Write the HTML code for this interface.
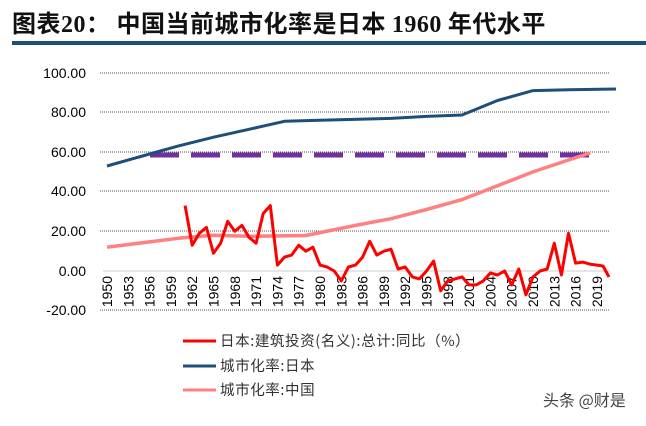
<!DOCTYPE html>
<html><head><meta charset="utf-8"><style>
body{margin:0;background:#fff;width:646px;height:421px;overflow:hidden;font-family:"Liberation Sans","Noto Sans CJK SC",sans-serif}
</style></head><body>
<svg width="646" height="421" viewBox="0 0 646 421" xmlns="http://www.w3.org/2000/svg" font-family="Liberation Sans, Noto Sans CJK SC, sans-serif">
<text x="12" y="32" font-size="24" font-weight="bold" font-family="Noto Sans CJK SC, sans-serif" fill="#111" letter-spacing="0.5">图表<tspan font-family="Liberation Serif, serif">20</tspan>：  中国当前城市化率是日本 <tspan font-family="Liberation Serif, serif">1960</tspan> 年代水平</text>
<rect x="12" y="41" width="634" height="4" fill="#1f4e79"/>
<g stroke="#555" stroke-width="1" stroke-dasharray="1,1">
<line x1="100" y1="73" x2="610" y2="73"/><line x1="100" y1="112" x2="610" y2="112"/><line x1="100" y1="152" x2="610" y2="152"/><line x1="100" y1="191" x2="610" y2="191"/><line x1="100" y1="231" x2="610" y2="231"/><line x1="100" y1="310" x2="610" y2="310"/>
</g>
<line x1="103" y1="271" x2="610" y2="271" stroke="#ccc"/>
<g font-size="14" text-anchor="end" fill="#000">
<text x="86" y="78">100.00</text><text x="86" y="117">80.00</text><text x="86" y="157">60.00</text><text x="86" y="196">40.00</text><text x="86" y="236">20.00</text><text x="86" y="276">0.00</text><text x="86" y="315">-20.00</text>
</g>
<g font-size="14" fill="#000" text-anchor="end">
<text transform="translate(112,276) rotate(-90)">1950</text>
<text transform="translate(133.3,276) rotate(-90)">1953</text>
<text transform="translate(154.6,276) rotate(-90)">1956</text>
<text transform="translate(175.9,276) rotate(-90)">1959</text>
<text transform="translate(197.2,276) rotate(-90)">1962</text>
<text transform="translate(218.5,276) rotate(-90)">1965</text>
<text transform="translate(239.8,276) rotate(-90)">1968</text>
<text transform="translate(261.1,276) rotate(-90)">1971</text>
<text transform="translate(282.4,276) rotate(-90)">1974</text>
<text transform="translate(303.7,276) rotate(-90)">1977</text>
<text transform="translate(325,276) rotate(-90)">1980</text>
<text transform="translate(346.3,276) rotate(-90)">1983</text>
<text transform="translate(367.6,276) rotate(-90)">1986</text>
<text transform="translate(388.9,276) rotate(-90)">1989</text>
<text transform="translate(410.2,276) rotate(-90)">1992</text>
<text transform="translate(431.5,276) rotate(-90)">1995</text>
<text transform="translate(452.8,276) rotate(-90)">1998</text>
<text transform="translate(474.1,276) rotate(-90)">2001</text>
<text transform="translate(495.4,276) rotate(-90)">2004</text>
<text transform="translate(516.7,276) rotate(-90)">2007</text>
<text transform="translate(538,276) rotate(-90)">2010</text>
<text transform="translate(559.3,276) rotate(-90)">2013</text>
<text transform="translate(580.6,276) rotate(-90)">2016</text>
<text transform="translate(601.9,276) rotate(-90)">2019</text>
</g>
<line x1="150" y1="155" x2="590" y2="155" stroke="#7030a0" stroke-width="5" stroke-dasharray="29,12"/>
<polyline fill="none" stroke="#ff8080" stroke-width="3.5" stroke-linejoin="round" points="107,247.2 178,238.3 213.5,235.3 249,236.3 305.8,235.5 355.5,225.4 391,218.7 426.5,209.5 462,199.6 497.5,185.8 533,171.9 568.5,160 590,153"/>
<polyline fill="none" stroke="#1f4e79" stroke-width="3" stroke-linejoin="round" points="107,166 142.5,156 178,146.1 213.5,137.2 249,129.3 284.5,121.3 320,120.3 391,118.4 426.5,116.4 462,115 497.5,100.5 518.8,94.6 533,90.6 568.5,89.8 616,89"/>
<polyline fill="none" stroke="#ff0000" stroke-width="3" stroke-linejoin="round" points="185.1,205.6 192.2,245.2 199.3,233.3 206.4,227.4 213.5,253.2 220.6,243.2 227.7,221.4 234.8,231.3 241.9,225.4 249,237.3 256.1,243.2 263.2,213.5 270.3,205.6 277.4,265.1 284.5,257.1 291.6,255.1 298.7,245.2 305.8,251.2 312.9,247.2 320,265.1 327.1,267 334.2,271 341.3,280.9 348.4,267 355.5,265.1 362.6,257.1 369.7,241.3 376.8,255.1 383.9,251.2 391,249.2 398.1,269 405.2,267 412.3,276.9 419.4,278.9 426.5,271 433.6,261.1 440.7,290.8 447.8,280.9 454.9,278.9 462,276.9 469.1,284.9 476.2,284.9 483.3,280.9 490.4,273 497.5,275 504.6,271 511.7,284.9 518.8,269 525.9,294.8 533,276.9 540.1,271 547.2,269 554.3,243.2 561.4,275 568.5,233.3 575.6,263.1 582.7,262.1 589.8,264.1 596.9,265.1 603,266 609,277"/>
<g font-size="14.5" fill="#333" font-family="Noto Sans CJK SC, sans-serif">
<line x1="183" y1="341" x2="216" y2="341" stroke="#ff0000" stroke-width="3"/>
<text x="220" y="346" letter-spacing="0.6">日本:建筑投资(名义):总计:同比（%）</text>
<line x1="183" y1="366" x2="216" y2="366" stroke="#1f4e79" stroke-width="3"/>
<text x="220" y="371" letter-spacing="0.6">城市化率:日本</text>
<line x1="183" y1="390" x2="216" y2="390" stroke="#ff8080" stroke-width="3"/>
<text x="220" y="395" letter-spacing="0.6">城市化率:中国</text>
<text x="543" y="406" font-size="16" fill="#444">头条 @财是</text>
</g>
</svg>
</body></html>
